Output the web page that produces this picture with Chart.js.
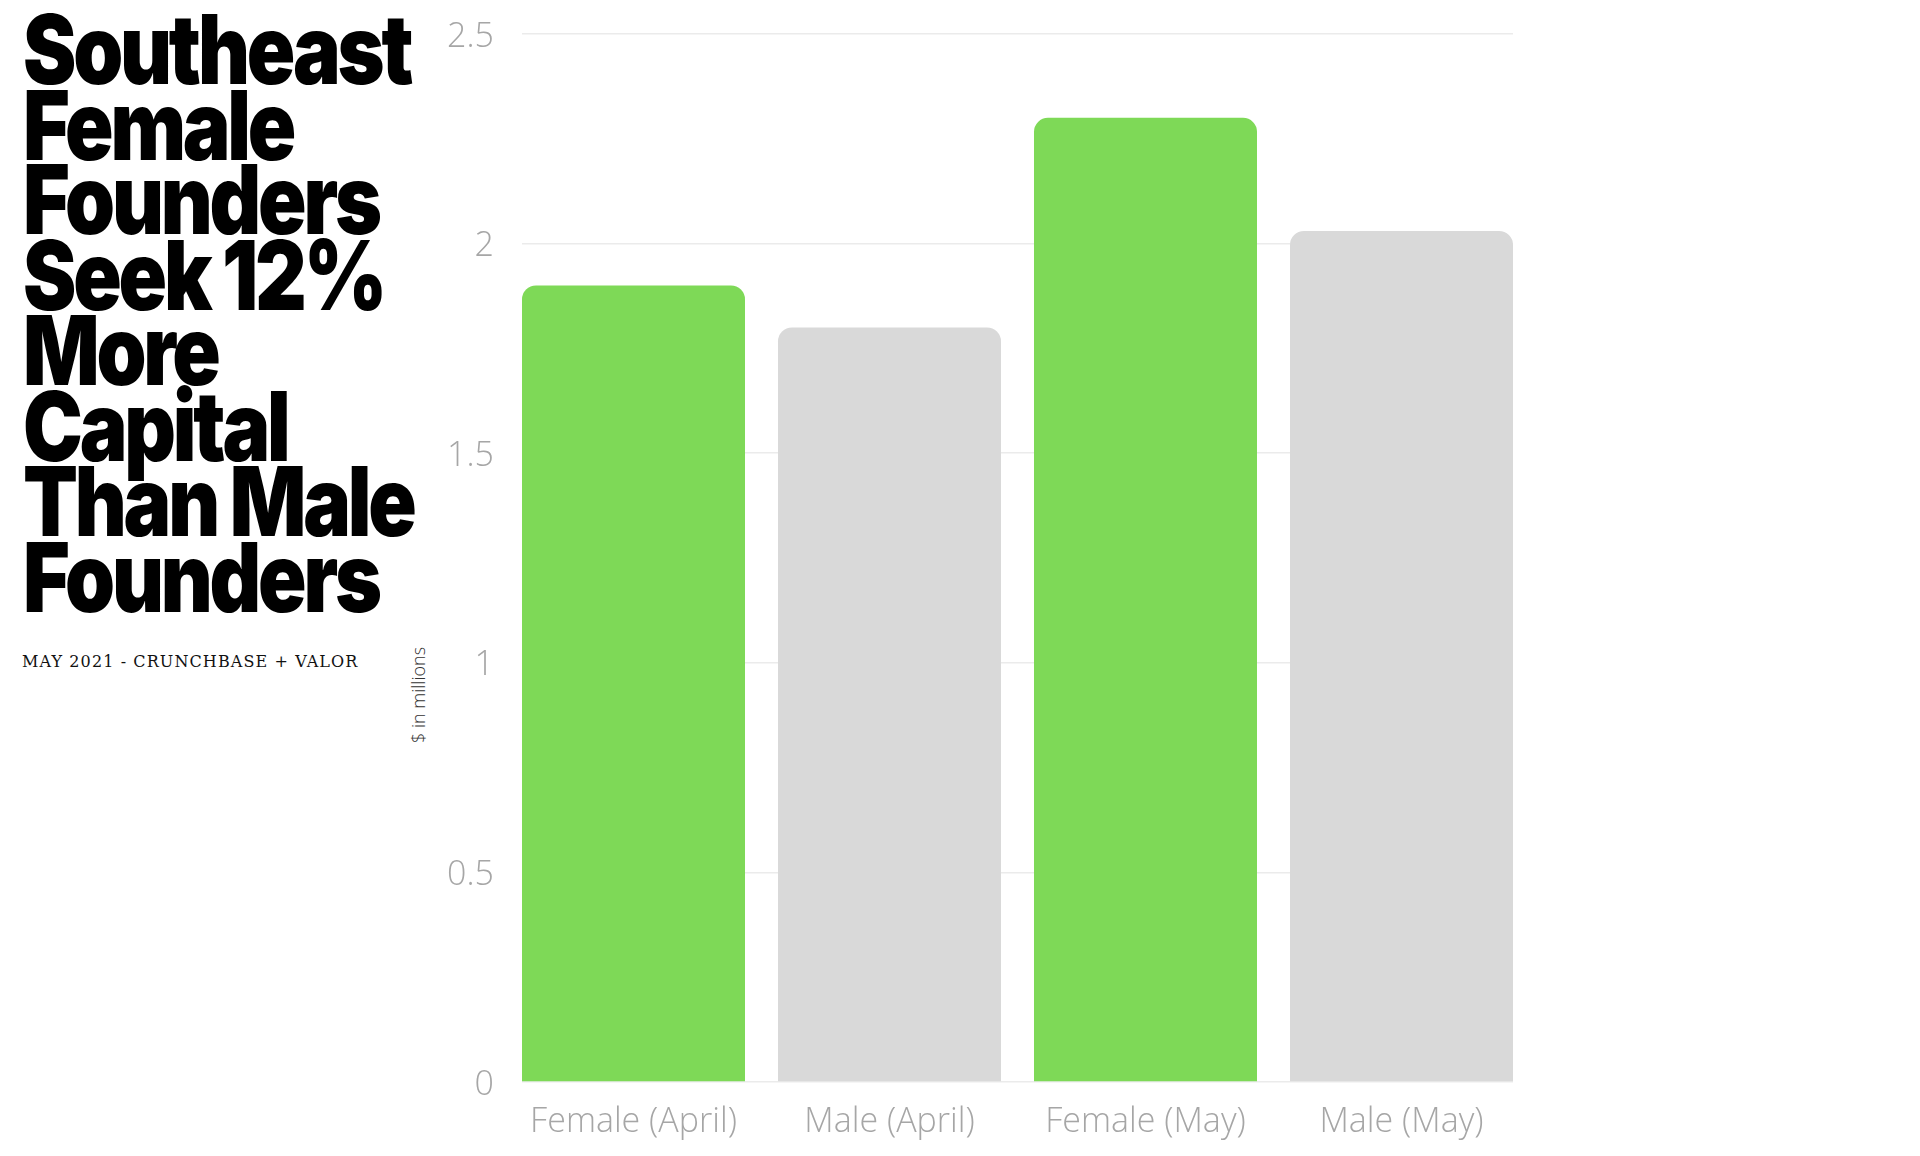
<!DOCTYPE html>
<html lang="en">
<head>
  <meta charset="UTF-8" />
  <title>Southeast Female Founders</title>
  <script src="https://cdn.jsdelivr.net/npm/chart.js"></script>
  <style>
    html, body {
      margin: 0;
      padding: 0;
      background: #fff;
      width: 1920px;
      height: 1156px;
      overflow: hidden;
    }
    .title {
      position: absolute;
      left: 23px;
      top: 11px;
      font-family: Inter, "Noto Sans", sans-serif;
      font-weight: 900;
      font-size: 88px;
      line-height: 68.5px;
      letter-spacing: -3.5px;
      color: #000;
      white-space: nowrap;
      transform: scale(0.91, 1.1);
      transform-origin: 0 0;
    }
    .source {
      position: absolute;
      left: 22px;
      top: 652px;
      font-family: "DejaVu Serif", serif;
      font-size: 16px;
      letter-spacing: 1.1px;
      color: #111;
    }
    .ytitle {
      position: absolute;
      left: 418px;
      top: 695px;
      transform: translate(-50%, -50%) rotate(-90deg);
      font-family: "Open Sans", sans-serif;
      font-size: 18px;
      font-weight: 300;
      color: #333;
      white-space: nowrap;
    }
    .chart-box {
      position: absolute;
      left: 400px;
      top: 0;
      width: 1520px;
      height: 1156px;
    }
  </style>
</head>
<body>
  <div class="title">Southeast<br>Female<br>Founders<br>Seek 12%<br>More<br>Capital<br>Than Male<br>Founders</div>
  <div class="source">MAY 2021 - CRUNCHBASE + VALOR</div>
  <div class="ytitle">$ in millions</div>
  <div class="chart-box"><canvas id="barChart"></canvas></div>

  <script>
    // values, $ in millions
    const categories = ["Female (April)", "Male (April)", "Female (May)", "Male (May)"];
    const amounts = [1.9, 1.8, 2.3, 2.03];

    const green = "#7ed957";
    const grey = "#d9d9d9";
    const tickFont = { family: "'Open Sans', sans-serif", size: 34, weight: 300 };

    const points = amounts.map((v, i) => ({ x: i, y: v }));
    const half = 0.8711 / 2;

    new Chart(document.getElementById("barChart"), {
      type: "bar",
      data: {
        datasets: [{
          data: points,
          backgroundColor: categories.map(c => c.startsWith("Female") ? green : grey),
          borderWidth: 0,
          borderRadius: 14,
          borderSkipped: "start",
          categoryPercentage: 1,
          barPercentage: 0.8711
        }]
      },
      options: {
        responsive: true,
        maintainAspectRatio: false,
        animation: false,
        layout: { padding: { top: 34, right: 407, left: 0, bottom: 0 } },
        plugins: {
          legend: { display: false },
          tooltip: { enabled: false }
        },
        scales: {
          x: {
            type: "linear",
            offset: false,
            min: -half,
            max: 3 + half,
            grid: { display: false, drawTicks: false },
            border: { display: false },
            afterFit: s => { s.height = 74; },
            ticks: {
              stepSize: 1,
              includeBounds: false,
              autoSkip: false,
              maxRotation: 0,
              padding: 20,
              color: "#a6a6a6",
              font: tickFont,
              callback: v => categories[v] || ""
            }
          },
          y: {
            min: 0,
            max: 2.5,
            // fixed width, and don't let the tick padding push the chart area down
            afterFit: s => { s.width = 122; s.paddingTop = 0; s.paddingBottom = 0; },
            grid: { color: "#ebebeb", lineWidth: 1.5, drawTicks: false },
            border: { display: false },
            ticks: {
              stepSize: 0.5,
              padding: 28,
              labelOffset: 3,
              color: "#a6a6a6",
              font: tickFont,
              callback: v => String(v)
            }
          }
        }
      }
    });
  </script>
</body>
</html>
